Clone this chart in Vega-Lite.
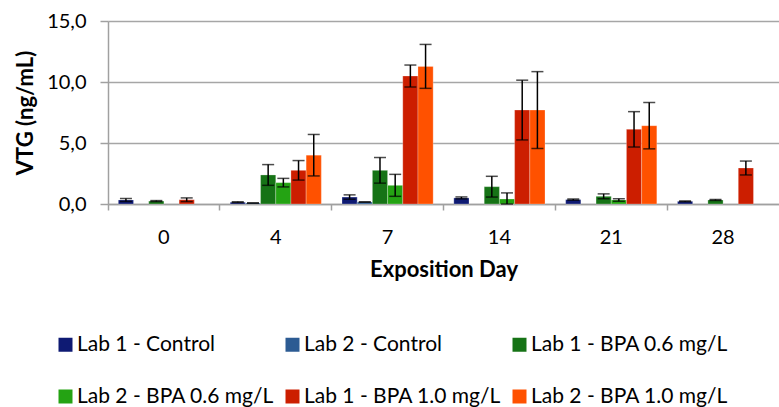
{
  "$schema": "https://vega.github.io/schema/vega-lite/v6.json",
  "autosize": {"type": "none"},
  "padding": {"left": 108, "top": 21, "right": 0, "bottom": 203},
  "width": 671,
  "height": 183,
  "background": "white",
  "config": {
    "font": "Lato",
    "view": {"stroke": null},
    "axis": {"labelFont": "Lato", "titleFont": "Lato", "labelColor": "black", "titleColor": "black"}
  },
  "data": {
    "values": [
      {"day": "0", "series": "Lab 1 - Control", "value": 0.33, "err": 0.12},
      {"day": "0", "series": "Lab 1 - BPA 0.6 mg/L", "value": 0.24, "err": 0.04},
      {"day": "0", "series": "Lab 1 - BPA 1.0 mg/L", "value": 0.35, "err": 0.15},
      {"day": "4", "series": "Lab 1 - Control", "value": 0.15, "err": 0.03},
      {"day": "4", "series": "Lab 2 - Control", "value": 0.08, "err": 0.0},
      {"day": "4", "series": "Lab 1 - BPA 0.6 mg/L", "value": 2.38, "err": 0.85},
      {"day": "4", "series": "Lab 2 - BPA 0.6 mg/L", "value": 1.75, "err": 0.35},
      {"day": "4", "series": "Lab 1 - BPA 1.0 mg/L", "value": 2.76, "err": 0.8},
      {"day": "4", "series": "Lab 2 - BPA 1.0 mg/L", "value": 4.0, "err": 1.7},
      {"day": "7", "series": "Lab 1 - Control", "value": 0.57, "err": 0.18},
      {"day": "7", "series": "Lab 2 - Control", "value": 0.16, "err": 0.0},
      {"day": "7", "series": "Lab 1 - BPA 0.6 mg/L", "value": 2.76, "err": 1.05},
      {"day": "7", "series": "Lab 2 - BPA 0.6 mg/L", "value": 1.53, "err": 0.9},
      {"day": "7", "series": "Lab 1 - BPA 1.0 mg/L", "value": 10.49, "err": 0.9},
      {"day": "7", "series": "Lab 2 - BPA 1.0 mg/L", "value": 11.28, "err": 1.8},
      {"day": "14", "series": "Lab 1 - Control", "value": 0.5, "err": 0.08},
      {"day": "14", "series": "Lab 1 - BPA 0.6 mg/L", "value": 1.42, "err": 0.85},
      {"day": "14", "series": "Lab 2 - BPA 0.6 mg/L", "value": 0.41, "err": 0.5},
      {"day": "14", "series": "Lab 1 - BPA 1.0 mg/L", "value": 7.7, "err": 2.45},
      {"day": "14", "series": "Lab 2 - BPA 1.0 mg/L", "value": 7.7, "err": 3.15},
      {"day": "21", "series": "Lab 1 - Control", "value": 0.36, "err": 0.05},
      {"day": "21", "series": "Lab 1 - BPA 0.6 mg/L", "value": 0.63, "err": 0.2},
      {"day": "21", "series": "Lab 2 - BPA 0.6 mg/L", "value": 0.33, "err": 0.1},
      {"day": "21", "series": "Lab 1 - BPA 1.0 mg/L", "value": 6.12, "err": 1.45},
      {"day": "21", "series": "Lab 2 - BPA 1.0 mg/L", "value": 6.42, "err": 1.9},
      {"day": "28", "series": "Lab 1 - Control", "value": 0.22, "err": 0.03},
      {"day": "28", "series": "Lab 1 - BPA 0.6 mg/L", "value": 0.33, "err": 0.04},
      {"day": "28", "series": "Lab 1 - BPA 1.0 mg/L", "value": 2.95, "err": 0.57}
    ]
  },
  "transform": [
    {"calculate": "datum.value + datum.err", "as": "hi"},
    {"calculate": "max(0, datum.value - datum.err)", "as": "lo"}
  ],
  "encoding": {
    "x": {
      "field": "day", "type": "nominal",
      "sort": ["0", "4", "7", "14", "21", "28"],
      "scale": {"paddingInner": 0, "paddingOuter": 0},
      "axis": {
        "title": "Exposition Day", "titleFontSize": 22, "titleFontWeight": "bold", "titlePadding": 12,
        "labelAngle": 0, "labelFontSize": 20, "labelPadding": 17,
        "bandPosition": 0, "ticks": true, "tickSize": 6, "tickColor": "#a0a0a0", "tickWidth": 1.5,
        "domainColor": "#a0a0a0", "domainWidth": 1.5, "grid": false
      }
    },
    "xOffset": {
      "field": "series", "type": "nominal",
      "scale": {
        "domain": ["Lab 1 - Control", "Lab 2 - Control", "Lab 1 - BPA 0.6 mg/L", "Lab 2 - BPA 0.6 mg/L", "Lab 1 - BPA 1.0 mg/L", "Lab 2 - BPA 1.0 mg/L"],
        "paddingInner": 0, "paddingOuter": 0.68
      }
    }
  },
  "layer": [
    {
      "mark": {"type": "bar", "stroke": "white", "strokeOpacity": 0.5, "strokeWidth": 0.5},
      "encoding": {
        "y": {
          "field": "value", "type": "quantitative",
          "scale": {"domain": [0, 15], "nice": false},
          "axis": {
            "title": "VTG (ng/mL)", "titleFontSize": 22, "titleFontWeight": "bold", "titlePadding": 9,
            "values": [0, 5, 10, 15],
            "labelExpr": "replace(format(datum.value, '.1f'), '.', ',')",
            "labelFontSize": 20, "labelPadding": 14,
            "tickSize": 8, "tickColor": "#a0a0a0", "tickWidth": 1.5,
            "grid": true, "gridColor": "#a6a6a6", "gridWidth": 1.5,
            "domainColor": "#a0a0a0", "domainWidth": 1.5
          }
        },
        "color": {
          "field": "series", "type": "nominal",
          "scale": {
            "domain": ["Lab 1 - Control", "Lab 2 - Control", "Lab 1 - BPA 0.6 mg/L", "Lab 2 - BPA 0.6 mg/L", "Lab 1 - BPA 1.0 mg/L", "Lab 2 - BPA 1.0 mg/L"],
            "range": ["#0e1a73", "#2c5b93", "#167316", "#24a313", "#cc1e00", "#ff5100"]
          },
          "legend": {
            "title": null, "orient": "none", "legendX": -53, "legendY": 313,
            "direction": "horizontal", "columns": 3,
            "symbolType": "square", "symbolSize": 196, "symbolStrokeWidth": 0,
            "labelFontSize": 21, "labelFont": "Lato", "labelColor": "black", "labelLimit": 400,
            "labelOffset": 1, "columnPadding": 8, "rowPadding": 30
          }
        }
      }
    },
    {
      "mark": {"type": "rule", "color": "black", "strokeWidth": 1.5},
      "encoding": {
        "y": {"field": "lo", "type": "quantitative"},
        "y2": {"field": "hi"}
      }
    },
    {
      "mark": {"type": "tick", "color": "black", "thickness": 1.5, "size": 12},
      "encoding": {"y": {"field": "hi", "type": "quantitative"}}
    },
    {
      "mark": {"type": "tick", "color": "black", "thickness": 1.5, "size": 12},
      "encoding": {"y": {"field": "lo", "type": "quantitative"}}
    }
  ]
}
